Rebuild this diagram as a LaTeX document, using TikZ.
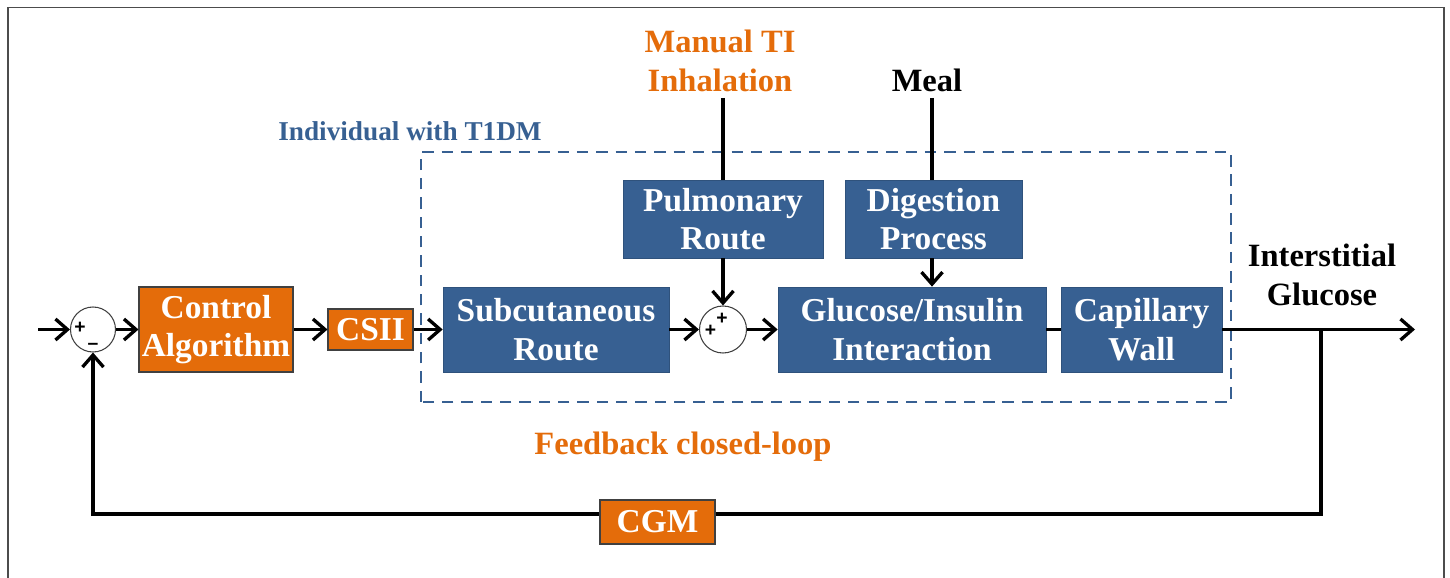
\documentclass[tikz,border=0pt]{standalone}
\usepackage{fontspec}
\setmainfont{Liberation Serif}
\setsansfont{Liberation Sans}
\usetikzlibrary{arrows.meta}
\definecolor{boxblue}{RGB}{55,96,146}
\definecolor{boxorange}{RGB}{228,108,10}

\begin{document}
\begin{tikzpicture}[
    >={Straight Barb[length=2.4mm,width=4.2mm]},
    flow/.style={line width=1.9pt,black},
    bluebox/.style={fill=boxblue,draw=boxblue!85!black,text=white,align=center,inner sep=0pt,
        font=\bfseries\fontsize{19}{22}\selectfont},
    orangebox/.style={fill=boxorange,draw=black!75,line width=0.6pt,text=white,align=center,inner sep=0pt,
        font=\bfseries\fontsize{19}{22}\selectfont},
    sumnode/.style={circle,draw=black!75,line width=0.6pt,minimum size=0.9cm,inner sep=0pt},
    sign/.style={inner sep=0pt,font=\sffamily\bfseries\fontsize{11}{11}\selectfont},
    sigtext/.style={align=center,font=\bfseries\fontsize{18.5}{22}\selectfont}
]
    \useasboundingbox (0,0) rectangle (29,11.54);

    % Frame
    \draw[black!70,line width=0.6pt] (0.16,-0.2) -- (0.16,11.39) -- (28.88,11.39) -- (28.88,-0.2);

    % Patient
    \draw[boxblue,line width=1.1pt,dash pattern=on 6.5pt off 4.5pt] (8.42,3.5) rectangle (24.62,8.5);
    \node[boxblue,font=\bfseries\fontsize{15.5}{18}\selectfont] (patient) at (8.2,8.92) {Individual with T1DM};

    % Blocks
    \node[orangebox,minimum width=3.08cm,minimum height=1.7cm] (ctrl) at (4.32,4.95) {Control\\Algorithm};
    \node[orangebox,minimum width=1.7cm,minimum height=0.82cm] (csii) at (7.41,4.95) {CSII};
    \node[bluebox,minimum width=4.52cm,minimum height=1.7cm] (subq) at (11.12,4.95) {Subcutaneous\\Route};
    \node[bluebox,minimum width=4.0cm,minimum height=1.56cm] (pulm) at (14.46,7.16) {Pulmonary\\Route};
    \node[bluebox,minimum width=3.54cm,minimum height=1.56cm] (dig) at (18.67,7.16) {Digestion\\Process};
    \node[bluebox,minimum width=5.36cm,minimum height=1.7cm] (gi) at (18.24,4.95) {Glucose/Insulin\\Interaction};
    \node[bluebox,minimum width=3.22cm,minimum height=1.7cm] (cap) at (22.83,4.95) {Capillary\\Wall};
    \node[orangebox,minimum width=2.3cm,minimum height=0.88cm] (cgm) at (13.15,1.1) {CGM};

    % Summing junctions
    \node[sumnode] (sum1) at (1.86,4.95) {};
    \node[sign] at ([xshift=-0.26cm,yshift=0.04cm]sum1.center) {+};
    \node[sign] at ([yshift=-0.33cm]sum1.center) {--};
    \node[sumnode,minimum size=0.94cm] (sum2) at (14.46,4.95) {};
    \node[sign] at ([xshift=-0.02cm,yshift=0.22cm]sum2.center) {+};
    \node[sign] at ([xshift=-0.25cm,yshift=-0.02cm]sum2.center) {+};

    % Inputs
    \node[sigtext,boxorange] (manual) at (14.4,10.32) {Manual TI\\Inhalation};
    \node[sigtext] (meal) at (18.54,9.94) {Meal};
    \node[sigtext] (ig) at (26.44,6.04) {Interstitial\\Glucose};
    \node[sigtext,boxorange] (fbtext) at (13.66,2.6) {Feedback closed-loop};
    \coordinate (tiin) at (14.46,9.58);
    \coordinate (mealin) at (18.64,9.58);
    \draw[flow] (tiin) -- (pulm.north);
    \draw[flow] (mealin) -- (mealin |- dig.north);
    \draw[flow,->] (pulm.south) -- (sum2.north);
    \draw[flow,->] (mealin |- dig.south) -- (mealin |- gi.north);

    % Forward path
    \coordinate (in) at (0.76,4.95);
    \coordinate (out) at (28.3,4.95);
    \draw[flow,->] (in) -- (sum1.west);
    \draw[flow,->] (sum1.east) -- (ctrl.west);
    \draw[flow,->] (ctrl.east) -- (csii.west);
    \draw[flow,->] (csii.east) -- (subq.west);
    \draw[flow,->] (subq.east) -- (sum2.west);
    \draw[flow,->] (sum2.east) -- (gi.west);
    \draw[flow] (gi.east) -- (cap.west);
    \draw[flow,->] (cap.east) -- (out);

    % Feedback path
    \coordinate (tap) at (26.42,4.95);
    \coordinate (fb) at (26.42,1.26);
    \draw[flow] (tap) -- (fb) -- (fb -| cgm.east);
    \draw[flow,->] (cgm.west |- fb) -| (sum1.south);
\end{tikzpicture}
\end{document}
